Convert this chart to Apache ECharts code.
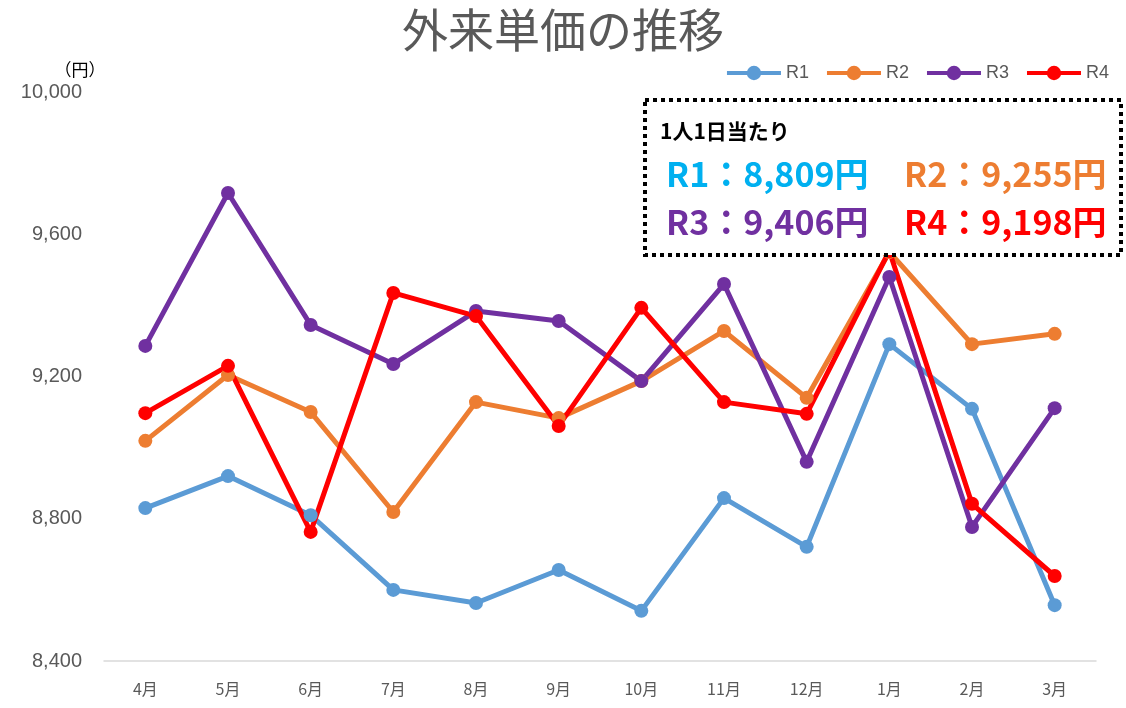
<!DOCTYPE html>
<html>
<head>
<meta charset="utf-8">
<script src="https://cdn.jsdelivr.net/npm/echarts@6/dist/echarts.min.js"></script>
<style>
  html, body { margin: 0; padding: 0; background: #fff; }
  #chart { width: 1126px; height: 708px; }
</style>
</head>
<body>
<div id="chart"></div>
<script>
const months = ['4月', '5月', '6月', '7月', '8月', '9月', '10月', '11月', '12月', '1月', '2月', '3月'];

const r1 = [8830, 8920, 8810, 8600, 8563, 8656, 8541, 8858, 8721, 9291, 9109, 8557];
const r2 = [9019, 9204, 9100, 8819, 9128, 9083, 9187, 9328, 9140, 9550, 9291, 9320];
const r3 = [9286, 9716, 9345, 9235, 9384, 9356, 9187, 9460, 8960, 9480, 8777, 9111];
const r4 = [9097, 9230, 8763, 9435, 9370, 9061, 9393, 9128, 9095, 9553, 8842, 8639];

// 1人1日当たりの平均
const averages = [
  { name: 'R1', value: '8,809', color: '#00B0F0' },
  { name: 'R2', value: '9,255', color: '#ED7D31' },
  { name: 'R3', value: '9,406', color: '#7030A0' },
  { name: 'R4', value: '9,198', color: '#FF0000' }
];

const seriesColors = ['#5B9BD5', '#ED7D31', '#7030A0', '#FF0000'];
const jpFont = '"Noto Sans CJK JP", "Noto Sans", sans-serif';

const chart = echarts.init(document.getElementById('chart'));

function makeLine(name, data, color) {
  return {
    name: name,
    type: 'line',
    data: data,
    symbol: 'circle',
    symbolSize: 14,
    lineStyle: { width: 5, color: color },
    itemStyle: { color: color },
    emphasis: { disabled: true }
  };
}

// 平均値のテキストボックス
const avgTexts = averages.map((a, i) => ({
  type: 'text',
  left: i % 2 === 0 ? 666 : 904,
  top: i < 2 ? 157 : 205,
  style: {
    text: a.name + '：' + a.value + '円',
    fill: a.color,
    font: 'bold 34px ' + jpFont
  },
  z: 20
}));

const option = {
  backgroundColor: '#fff',
  animation: false,
  title: {
    text: '外来単価の推移',
    left: 'center',
    top: 2,
    textStyle: { fontSize: 46, fontWeight: 'normal', color: '#595959', fontFamily: jpFont }
  },
  legend: {
    top: 59,
    right: 12,
    itemWidth: 54,
    itemHeight: 18,
    itemGap: 16,
    lineStyle: { width: 4 },
    textStyle: { fontSize: 18, color: '#595959', fontFamily: '"Liberation Sans", sans-serif' },
    data: ['R1', 'R2', 'R3', 'R4']
  },
  grid: { left: 104, right: 30, top: 92, bottom: 47, containLabel: false },
  xAxis: {
    type: 'category',
    data: months,
    boundaryGap: true,
    axisLine: { lineStyle: { color: '#D9D9D9', width: 1.5 } },
    axisTick: { show: false },
    axisLabel: { fontSize: 16, color: '#595959', margin: 20, fontFamily: jpFont }
  },
  yAxis: {
    type: 'value',
    name: '（円）',
    nameLocation: 'end',
    nameGap: 14,
    nameTextStyle: { fontSize: 17, color: '#000', fontFamily: jpFont, align: 'center', padding: [0, 0, 0, -48] },
    min: 8400,
    max: 10000,
    interval: 400,
    axisLine: { show: false },
    axisTick: { show: false },
    splitLine: { show: false },
    axisLabel: {
      fontSize: 20,
      color: '#595959',
      margin: 22,
      fontFamily: '"Liberation Sans", sans-serif',
      formatter: v => v.toLocaleString('en-US')
    }
  },
  graphic: [
    {
      type: 'rect',
      shape: { x: 645, y: 100, width: 476, height: 155 },
      style: { fill: '#fff', stroke: '#000', lineWidth: 4, lineDash: [4, 4] },
      z: 10
    },
    {
      type: 'text',
      left: 660,
      top: 121,
      style: { text: '1人1日当たり', fill: '#000', font: 'bold 21px ' + jpFont },
      z: 20
    }
  ].concat(avgTexts),
  series: [
    makeLine('R1', r1, seriesColors[0]),
    makeLine('R2', r2, seriesColors[1]),
    makeLine('R3', r3, seriesColors[2]),
    makeLine('R4', r4, seriesColors[3])
  ]
};

chart.setOption(option);
</script>
</body>
</html>
